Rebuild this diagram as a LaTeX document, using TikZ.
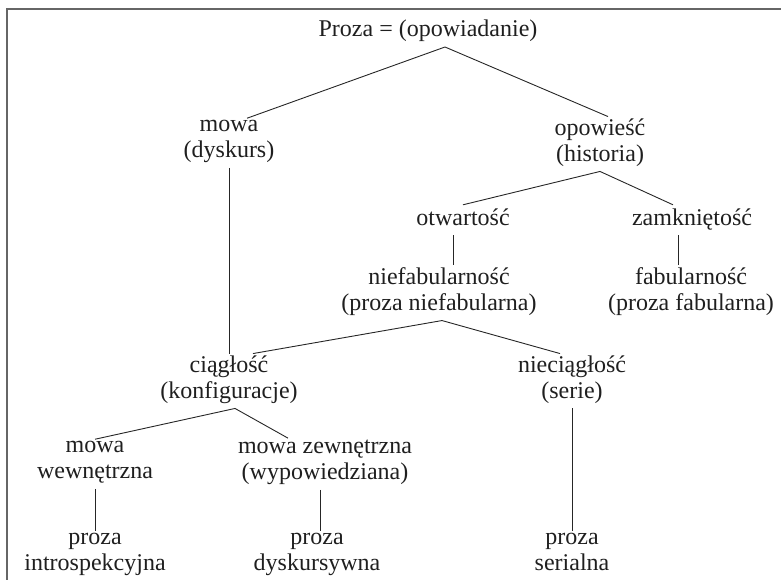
\documentclass[tikz,border=0pt]{standalone}
\usepackage{fontspec}
\setmainfont{Liberation Serif}
\usepackage{tikz}
\usetikzlibrary{positioning}

\begin{document}
\begin{tikzpicture}[
  x=1pt, y=-1pt,
  term/.style={inner sep=2pt,align=center,text=black!88,
    font=\fontsize{24}{26}\selectfont,
    execute at begin node=\strut,execute at end node=\strut},
  link/.style={line width=0.9pt,black!85},
  frame/.style={line width=1.5pt,black!60},
]
  \useasboundingbox (0,0) rectangle (781,580);
  \draw[frame] (7,580) |- (781,9);

  \node[term] (proza) at (428,31.8) {Proza = (opowiadanie)};
  \node[term] (mowa) at (229,143) {mowa\\(dyskurs)};
  \node[term] (opow) at (600,144) {opowieść\\(historia)};
  \node[term] (otw) at (463,220) {otwartość};
  \node[term] (zamk) at (692,220) {zamkniętość};
  \node[term] (niefab) at (439,293) {niefabularność\\(proza niefabularna)};
  \node[term] (fab) at (691,293) {fabularność\\(proza fabularna)};
  \node[term] (ciag) at (229,381) {ciągłość\\(konfiguracje)};
  \node[term] (nieciag) at (572,381) {nieciągłość\\(serie)};
  \node[term] (mwew) at (95,464) {mowa\\wewnętrzna};
  \node[term] (mzew) at (325,464) {mowa zewnętrzna\\(wypowiedziana)};
  \node[term] (pint) at (95,556) {proza\\introspekcyjna};
  \node[term] (pdys) at (317,556) {proza\\dyskursywna};
  \node[term] (pser) at (572,556) {proza\\serialna};

  \draw[link] ([xshift=18pt]mowa.north) -- ([xshift=17pt]proza.south)
    -- ([xshift=8pt]opow.north);
  \draw[link] (otw.north) -- (opow.south) -- ([xshift=-19pt]zamk.north);
  \draw[link] ([xshift=-10pt]otw.south) -- ([xshift=14pt]niefab.north);
  \draw[link] ([xshift=-14pt]zamk.south) -- ([xshift=-13pt]fab.north);
  \draw[link] (mowa.south) -- (ciag.north);
  \draw[link] ([xshift=24pt]ciag.north) -- ([xshift=3pt]niefab.south)
    -- ([xshift=-12pt]nieciag.north);
  \draw[link] (nieciag.south) -- (pser.north);
  \draw[link] (mwew.north) -- ([xshift=6pt]ciag.south)
    -- ([xshift=-37pt]mzew.north);
  \draw[link] (mwew.south) -- (pint.north);
  \draw[link] ([xshift=-5pt]mzew.south) -- ([xshift=3pt]pdys.north);
\end{tikzpicture}
\end{document}
